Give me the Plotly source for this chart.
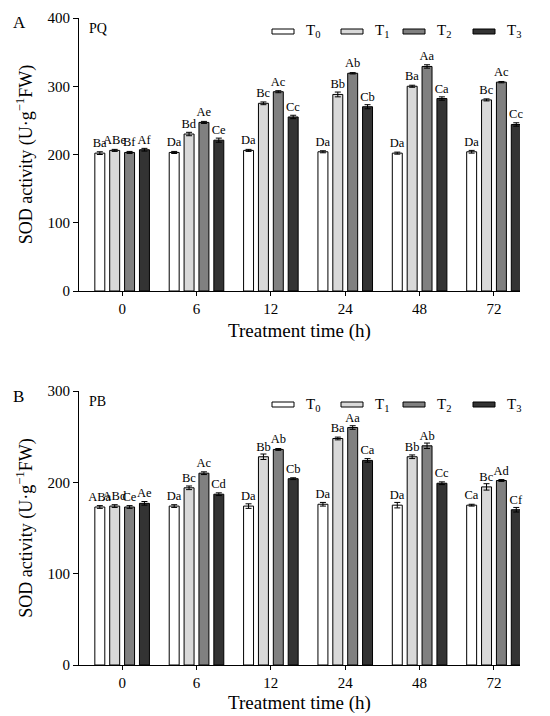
import plotly.graph_objects as go

# Data
times = ["0", "6", "12", "24", "48", "72"]
groups = ["T0", "T1", "T2", "T3"]
group_names = ["T<sub>0</sub>", "T<sub>1</sub>", "T<sub>2</sub>", "T<sub>3</sub>"]
colors = ["#ffffff", "#d9d9d9", "#808080", "#333333"]

# Panel A (PQ)
pq_vals = {
    "T0": [202, 203, 206, 204, 202, 204],
    "T1": [206, 230, 275, 288, 300, 280],
    "T2": [203, 247, 292, 319, 329, 306],
    "T3": [207, 221, 255, 270, 282, 244],
}
pq_err = {
    "T0": [2, 1.5, 1.5, 1.5, 1.5, 2],
    "T1": [1.5, 2.5, 2, 3.5, 1.5, 1.5],
    "T2": [1.5, 1.5, 1.5, 1, 2.5, 1],
    "T3": [2, 3, 2.5, 3, 2.5, 2.5],
}
pq_labels = {
    "T0": ["Ba", "Da", "Da", "Da", "Da", "Da"],
    "T1": ["ABe", "Bd", "Bc", "Bb", "Ba", "Bc"],
    "T2": ["Bf", "Ae", "Ac", "Ab", "Aa", "Ac"],
    "T3": ["Af", "Ce", "Cc", "Cb", "Ca", "Cc"],
}

# Panel B (PB)
pb_vals = {
    "T0": [173, 174, 174, 176, 175, 175],
    "T1": [174, 194, 228, 248, 228, 195],
    "T2": [173, 210, 236, 260, 240, 202],
    "T3": [177, 187, 204, 224, 199, 170],
}
pb_err = {
    "T0": [1.5, 1.5, 2.5, 2, 3, 1],
    "T1": [1.5, 2, 3, 1.5, 2, 3.5],
    "T2": [1.5, 1.5, 1, 2, 3, 1],
    "T3": [2, 1.5, 1, 2, 1.5, 2.5],
}
pb_labels = {
    "T0": ["ABa", "Da", "Da", "Da", "Da", "Ca"],
    "T1": ["ABd", "Bc", "Bb", "Ba", "Bb", "Bc"],
    "T2": ["Ce", "Ac", "Ab", "Aa", "Ab", "Ad"],
    "T3": ["Ae", "Cd", "Cb", "Ca", "Cc", "Cf"],
}

W, H = 550, 716
font = "Liberation Serif, Times New Roman, serif"

fig = go.Figure()

panels = [
    ("x", "y", pq_vals, pq_err, pq_labels),
    ("x2", "y2", pb_vals, pb_err, pb_labels),
]
for xa, ya, vals, errs, labels in panels:
    for g, c in zip(groups, colors):
        fig.add_trace(go.Bar(
            x=times, y=vals[g], xaxis=xa, yaxis=ya,
            marker=dict(color=c, line=dict(color="black", width=1)),
            error_y=dict(type="data", array=errs[g], color="black",
                         thickness=1, width=3),
            text=labels[g], textposition="outside",
            textfont=dict(size=12.5, color="black", family=font),
            constraintext="none", cliponaxis=False,
            showlegend=False,
        ))

axis_common = dict(showline=True, linecolor="black", linewidth=1,
                   ticks="outside", tickcolor="black", showgrid=False,
                   zeroline=False, automargin=False,
                   tickfont=dict(size=15, family=font, color="black"))

xdom = [71 / W, 512 / W]
top_dom = [1 - 283 / H, 1 - 10 / H]
bot_dom = [1 - 657 / H, 1 - 383 / H]

ytitle = "SOD activity (U·g<sup>−1</sup>FW)"
xtitle = "Treatment time (h)"

fig.update_layout(
    width=W, height=H,
    margin=dict(l=0, r=0, t=0, b=0),
    plot_bgcolor="white", paper_bgcolor="white",
    barmode="group", bargap=0.2, bargroupgap=0.33,
    font=dict(family=font, color="black"),
    xaxis=dict(domain=xdom, anchor="y", type="category",
               range=[-0.58, 5.35], ticklen=4,
               title=dict(text=xtitle, standoff=7, font=dict(size=19)),
               **axis_common),
    yaxis=dict(domain=top_dom, anchor="x", range=[0, 400], dtick=100,
               ticklen=5,
               title=dict(text=ytitle, standoff=10, font=dict(size=18)),
               **axis_common),
    xaxis2=dict(domain=xdom, anchor="y2", type="category",
                range=[-0.58, 5.35], ticklen=4,
                title=dict(text=xtitle, standoff=5, font=dict(size=19)),
                **axis_common),
    yaxis2=dict(domain=bot_dom, anchor="x2", range=[0, 300], dtick=100,
                ticklen=5,
                title=dict(text=ytitle, standoff=10, font=dict(size=18)),
                **axis_common),
)

# panel letters and stress labels
for letter, tag, ytop in [("A", "PQ", 10), ("B", "PB", 383)]:
    fig.add_annotation(x=3 / W, y=1 - (ytop + 5) / H, xref="paper", yref="paper",
                       text=letter, showarrow=False, xanchor="left",
                       yanchor="middle", font=dict(size=17))
    fig.add_annotation(x=79 / W, y=1 - (ytop + 10) / H, xref="paper",
                       yref="paper", text=tag, showarrow=False,
                       xanchor="left", yanchor="middle", font=dict(size=14))

# hand-drawn legends (wide flat swatches)
sw_x = [264, 333, 395, 465]
for ytop in [10, 383]:
    yc = ytop + 13.5
    for sx, name, c in zip(sw_x, group_names, colors):
        fig.add_shape(type="rect", xref="paper", yref="paper",
                      x0=sx / W, x1=(sx + 22) / W,
                      y0=1 - (yc + 2.5) / H, y1=1 - (yc - 2.5) / H,
                      fillcolor=c, line=dict(color="black", width=1))
        fig.add_annotation(x=(sx + 32) / W, y=1 - yc / H, xref="paper",
                           yref="paper", text=name, showarrow=False,
                           xanchor="left", yanchor="middle",
                           font=dict(size=15))

fig.write_html("out.html")
